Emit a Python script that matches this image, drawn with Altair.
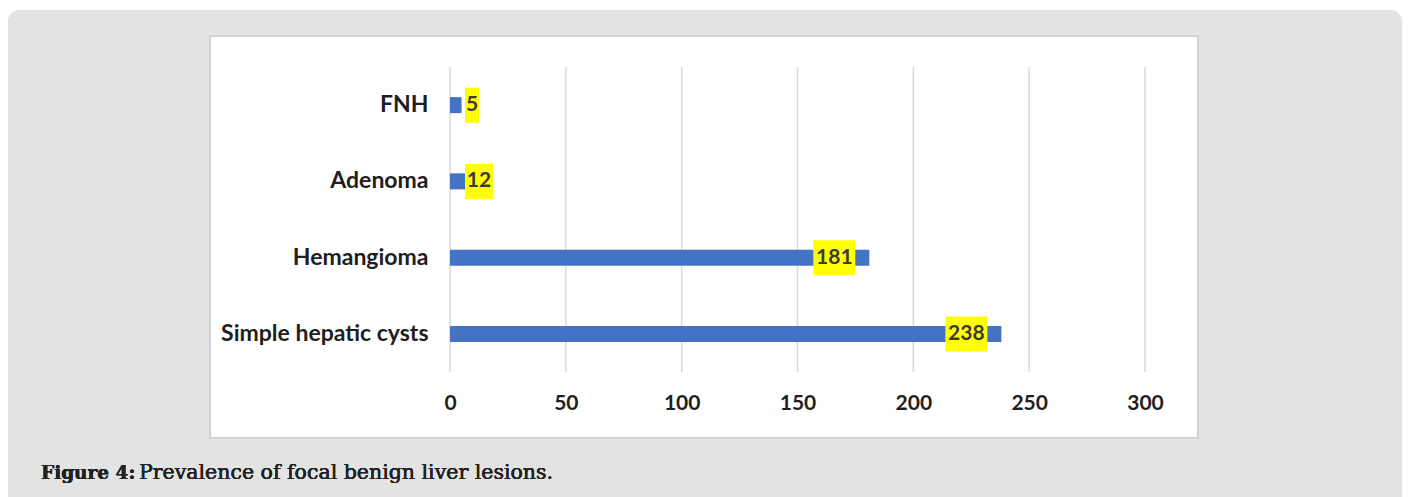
import altair as alt
import pandas as pd

categories = ["FNH", "Adenoma", "Hemangioma", "Simple hepatic cysts"]
values = [5, 12, 181, 238]
tick_values = [0, 50, 100, 150, 200, 250, 300]
caption_bold = "Figure 4:"
caption_rest = "Prevalence of focal benign liver lesions."

W, H = 695, 305
XMAX = 300
ppu = W / XMAX  # pixels per data unit

rows = []
for c, v in zip(categories, values):
    n = len(str(v))
    w = 14 * n
    end_px = v * ppu
    if end_px - 14 - w < 15:
        lo_px = 15
        hi_px = lo_px + w
    else:
        hi_px = end_px - 14
        lo_px = hi_px - w
    rows.append({"category": c, "value": v, "lo": lo_px / ppu, "hi": hi_px / ppu,
                 "mid": (lo_px + hi_px) / 2 / ppu, "label": str(v)})
df = pd.DataFrame(rows)
ticks_df = pd.DataFrame({"t": tick_values})

xscale = alt.Scale(domain=[0, XMAX], nice=False, zero=True)
yenc = alt.Y("category:N", sort=categories, title=None,
             scale=alt.Scale(paddingInner=0, paddingOuter=0),
             axis=alt.Axis(domain=False, ticks=False, grid=False, labelPadding=22,
                           labelFont="Lato", labelFontWeight="bold", labelFontSize=23,
                           labelColor="#1e1e1e", zindex=1, labelLimit=0))
xaxis = alt.Axis(values=tick_values, domain=False, ticks=False, grid=False, labelPadding=20,
                 labelFont="Lato", labelFontWeight="bold", labelFontSize=21,
                 labelColor="#1e1e1e", zindex=1, format="d", labelFlush=False)

base = alt.Chart(df)

gray_bg = base.mark_rect(color="#e3e3e3", cornerRadius=12).encode(
    x=alt.value(-442), x2=alt.value(952), y=alt.value(-57), y2=alt.value(445))
white_box = base.mark_rect(fill="#ffffff", stroke="#d2d2d2", strokeWidth=2).encode(
    x=alt.value(-240), x2=alt.value(748), y=alt.value(-31), y2=alt.value(371))

grid = alt.Chart(ticks_df).mark_rule(color="#d9d9d9", strokeWidth=1.5).encode(
    x=alt.X("t:Q", scale=xscale, title=None, axis=xaxis))

bars = base.mark_bar(color="#4472C4", size=16).encode(
    x=alt.X("value:Q", scale=xscale), y=yenc)

label_bg = base.mark_bar(color="#ffff00", size=35).encode(
    x=alt.X("lo:Q", scale=xscale), x2="hi:Q", y=alt.Y("category:N", sort=categories))

label_txt = base.mark_text(font="Lato", fontWeight="bold", fontSize=21, color="#3a3a3a",
                           align="center", baseline="middle").encode(
    x=alt.X("mid:Q", scale=xscale), y=alt.Y("category:N", sort=categories), text="label:N")

cap1 = base.mark_text(font="DejaVu Serif", fontWeight="bold", fontSize=18.5, color="#222222",
                      align="left", baseline="alphabetic").encode(
    x=alt.value(-409), y=alt.value(412), text=alt.value(caption_bold))
cap2 = base.mark_text(font="DejaVu Serif", fontSize=20.5, color="#222222",
                      align="left", baseline="alphabetic").encode(
    x=alt.value(-311), y=alt.value(412), text=alt.value(caption_rest))

chart = alt.layer(gray_bg, white_box, grid, bars, label_bg, label_txt, cap1, cap2).properties(
    width=W, height=H,
    autosize=alt.AutoSizeParams(type="none"),
    padding={"left": 450, "top": 67, "right": 264, "bottom": 125},
    background="#ffffff",
).configure_view(strokeWidth=0)

chart.save("out.html", embed_options={"renderer": "svg", "actions": False})
